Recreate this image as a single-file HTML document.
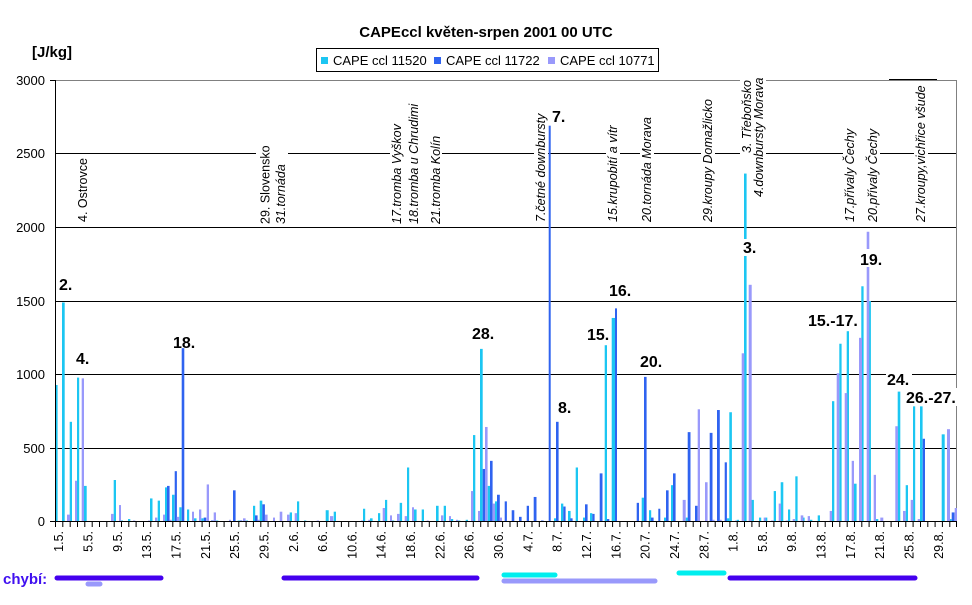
<!DOCTYPE html>
<html><head><meta charset="utf-8"><style>
html,body{margin:0;padding:0;background:#fff;}
svg{display:block;font-family:"Liberation Sans",Arial,sans-serif;}
.c{fill:#1cc6f2}.b{fill:#2f63f0}.l{fill:#9999fb}
.ev{font-size:12.5px;fill:#000}
.n{font-size:16px;font-weight:bold;fill:#000}
.xl{font-size:12.5px;fill:#000}
</style></head><body>
<svg width="972" height="605" viewBox="0 0 972 605" xmlns="http://www.w3.org/2000/svg">
<rect width="972" height="605" fill="#fff"/>
<text x="486" y="37" text-anchor="middle" font-size="15" font-weight="bold">CAPEccl květen-srpen 2001 00 UTC</text>
<text x="32" y="57" font-size="15" font-weight="bold">[J/kg]</text>
<rect x="316.5" y="48.5" width="342" height="23" fill="#fff" stroke="#000"/>
<rect x="321" y="57" width="7" height="7" class="c"/><text x="333" y="65" font-size="13">CAPE ccl 11520</text>
<rect x="434" y="57" width="7" height="7" class="b"/><text x="446" y="65" font-size="13">CAPE ccl 11722</text>
<rect x="548" y="57" width="7" height="7" class="l"/><text x="560" y="65" font-size="13">CAPE ccl 10771</text>
<g stroke="#000" stroke-width="1">
<line x1="55" y1="448.5" x2="957" y2="448.5"/><line x1="55" y1="374.5" x2="957" y2="374.5"/><line x1="55" y1="301.5" x2="957" y2="301.5"/><line x1="55" y1="227.5" x2="957" y2="227.5"/><line x1="55" y1="153.5" x2="957" y2="153.5"/>
<line x1="50" y1="448.5" x2="55" y2="448.5"/><line x1="50" y1="80.5" x2="55" y2="80.5"/><line x1="50" y1="521.5" x2="55" y2="521.5"/>
</g>
<line x1="55" y1="80.5" x2="957" y2="80.5" stroke="#808080"/>
<line x1="889" y1="79.5" x2="937" y2="79.5" stroke="#000"/>
<line x1="956.5" y1="80" x2="956.5" y2="522" stroke="#808080"/>
<g font-size="13" text-anchor="end">
<text x="45" y="526">0</text><text x="45" y="453">500</text><text x="45" y="379">1000</text><text x="45" y="306">1500</text><text x="45" y="232">2000</text><text x="45" y="158">2500</text><text x="45" y="85">3000</text>
</g>
<line x1="55.5" y1="80" x2="55.5" y2="522" stroke="#000"/>
<g transform="translate(0,522) scale(1,-0.14733)">
<g class="c">
<rect x="56" y="0" width="1.6" height="930"/><rect x="62" y="0" width="2.7" height="1490"/><rect x="69.7" y="0" width="2.3" height="680"/><rect x="77" y="0" width="2.2" height="980"/><rect x="84" y="0" width="2.7" height="245"/><rect x="113.7" y="0" width="2.3" height="285"/><rect x="120.7" y="0" width="2.3" height="10"/><rect x="128" y="0" width="2.3" height="20"/><rect x="150" y="0" width="2.5" height="160"/><rect x="157.7" y="0" width="2.3" height="145"/><rect x="165" y="0" width="2.2" height="235"/><rect x="172" y="0" width="2.5" height="185"/><rect x="179.3" y="0" width="2.3" height="100"/><rect x="187" y="0" width="2.2" height="85"/><rect x="194" y="0" width="2.5" height="25"/><rect x="201.3" y="0" width="2.3" height="25"/><rect x="216" y="0" width="2.3" height="10"/><rect x="237.7" y="0" width="2.3" height="10"/><rect x="245.7" y="0" width="2.3" height="10"/><rect x="253" y="0" width="2.2" height="110"/><rect x="259.7" y="0" width="2.6" height="145"/><rect x="289.7" y="0" width="2.3" height="65"/><rect x="297" y="0" width="2.2" height="140"/><rect x="304" y="0" width="2.3" height="10"/><rect x="325.7" y="0" width="3" height="80"/><rect x="333.7" y="0" width="2.3" height="70"/><rect x="363" y="0" width="2.2" height="90"/><rect x="370" y="0" width="2.6" height="25"/><rect x="378" y="0" width="2.2" height="60"/><rect x="385" y="0" width="2.2" height="150"/><rect x="392" y="0" width="2.3" height="10"/><rect x="399.7" y="0" width="2.4" height="130"/><rect x="407" y="0" width="2.2" height="370"/><rect x="414" y="0" width="2.6" height="85"/><rect x="421.7" y="0" width="2.3" height="85"/><rect x="428.7" y="0" width="2.2" height="5"/><rect x="436" y="0" width="2.6" height="110"/><rect x="443.7" y="0" width="2.3" height="110"/><rect x="451" y="0" width="2.2" height="20"/><rect x="458" y="0" width="2.3" height="10"/><rect x="465.7" y="0" width="2.3" height="15"/><rect x="473" y="0" width="2.3" height="590"/><rect x="480" y="0" width="2.7" height="1175"/><rect x="487.7" y="0" width="2.3" height="245"/><rect x="495" y="0" width="2.3" height="140"/><rect x="554" y="0" width="2.3" height="25"/><rect x="561" y="0" width="2.3" height="125"/><rect x="568" y="0" width="2.6" height="75"/><rect x="575.7" y="0" width="2.3" height="370"/><rect x="583" y="0" width="2.2" height="30"/><rect x="590" y="0" width="2.3" height="60"/><rect x="604.7" y="0" width="2.3" height="1200"/><rect x="611.7" y="0" width="3.3" height="1385"/><rect x="641.7" y="0" width="2.3" height="165"/><rect x="649" y="0" width="2.2" height="80"/><rect x="664" y="0" width="2.2" height="30"/><rect x="671" y="0" width="2.2" height="250"/><rect x="685.7" y="0" width="2.2" height="30"/><rect x="726.7" y="0" width="2.6" height="25"/><rect x="729.3" y="0" width="2.6" height="745"/><rect x="736.7" y="0" width="2.3" height="15"/><rect x="744" y="0" width="2.6" height="2365"/><rect x="751.3" y="0" width="2.6" height="150"/><rect x="759" y="0" width="2.2" height="30"/><rect x="765" y="0" width="2.3" height="30"/><rect x="773.7" y="0" width="2.3" height="210"/><rect x="780.7" y="0" width="2.6" height="270"/><rect x="788" y="0" width="2.2" height="85"/><rect x="795.3" y="0" width="2.3" height="310"/><rect x="802.3" y="0" width="2.3" height="30"/><rect x="809.7" y="0" width="2.6" height="15"/><rect x="817.7" y="0" width="2.3" height="45"/><rect x="824.3" y="0" width="2.3" height="5"/><rect x="832" y="0" width="2.3" height="820"/><rect x="839.3" y="0" width="2.3" height="1210"/><rect x="846.7" y="0" width="2.3" height="1295"/><rect x="854" y="0" width="2.6" height="260"/><rect x="861.3" y="0" width="2.3" height="1600"/><rect x="868.3" y="0" width="2.6" height="1500"/><rect x="875.7" y="0" width="2.6" height="20"/><rect x="897.7" y="0" width="2.6" height="885"/><rect x="905.7" y="0" width="2.3" height="250"/><rect x="913" y="0" width="2.2" height="785"/><rect x="920" y="0" width="2.6" height="785"/><rect x="925" y="0" width="2.3" height="5"/><rect x="941.7" y="0" width="3" height="595"/><rect x="949.3" y="0" width="2.3" height="20"/>
</g>
<g class="b">
<rect x="167" y="0" width="2.6" height="245"/><rect x="174.7" y="0" width="2.2" height="345"/><rect x="181.7" y="0" width="2.6" height="1180"/><rect x="203.7" y="0" width="2.6" height="30"/><rect x="211" y="0" width="2.6" height="10"/><rect x="233" y="0" width="2.6" height="215"/><rect x="240" y="0" width="2.3" height="10"/><rect x="255" y="0" width="2.6" height="45"/><rect x="262.3" y="0" width="2.6" height="120"/><rect x="482.7" y="0" width="2.3" height="360"/><rect x="490" y="0" width="2.6" height="415"/><rect x="497" y="0" width="2.8" height="185"/><rect x="504.7" y="0" width="2.2" height="140"/><rect x="511.7" y="0" width="2.6" height="80"/><rect x="519" y="0" width="2.6" height="35"/><rect x="526.7" y="0" width="2.3" height="110"/><rect x="533.7" y="0" width="2.8" height="170"/><rect x="541" y="0" width="2.6" height="10"/><rect x="548.7" y="0" width="2" height="2690"/><rect x="556" y="0" width="2.6" height="680"/><rect x="563.3" y="0" width="2.3" height="105"/><rect x="570.3" y="0" width="2.3" height="25"/><rect x="585" y="0" width="2.6" height="120"/><rect x="592.3" y="0" width="2.3" height="55"/><rect x="599.7" y="0" width="2.8" height="330"/><rect x="607" y="0" width="2.3" height="20"/><rect x="615" y="0" width="2" height="1450"/><rect x="636.7" y="0" width="2.3" height="130"/><rect x="644" y="0" width="2.6" height="985"/><rect x="651" y="0" width="2.6" height="30"/><rect x="658.3" y="0" width="2" height="90"/><rect x="666" y="0" width="2.6" height="215"/><rect x="673" y="0" width="2.6" height="330"/><rect x="687.7" y="0" width="2.8" height="610"/><rect x="695" y="0" width="2.6" height="110"/><rect x="709.7" y="0" width="2.8" height="605"/><rect x="717" y="0" width="2.8" height="760"/><rect x="724.7" y="0" width="2.2" height="405"/><rect x="922.7" y="0" width="2.3" height="565"/><rect x="927" y="0" width="2.2" height="5"/><rect x="951.7" y="0" width="2.8" height="65"/>
</g>
<g class="l">
<rect x="67" y="0" width="3.2" height="50"/><rect x="75" y="0" width="2" height="280"/><rect x="81.7" y="0" width="2.3" height="975"/><rect x="111" y="0" width="2.6" height="55"/><rect x="119" y="0" width="2" height="115"/><rect x="133" y="0" width="2.3" height="10"/><rect x="148" y="0" width="2" height="10"/><rect x="155" y="0" width="2.3" height="30"/><rect x="163" y="0" width="2" height="50"/><rect x="169.7" y="0" width="2" height="15"/><rect x="176.7" y="0" width="2.6" height="35"/><rect x="192" y="0" width="2" height="70"/><rect x="199" y="0" width="2.3" height="85"/><rect x="206.7" y="0" width="2.3" height="255"/><rect x="213.7" y="0" width="2.3" height="65"/><rect x="229" y="0" width="2" height="15"/><rect x="243" y="0" width="2.6" height="25"/><rect x="257.7" y="0" width="2" height="15"/><rect x="265" y="0" width="2.6" height="50"/><rect x="273" y="0" width="2" height="30"/><rect x="279.7" y="0" width="2.6" height="70"/><rect x="287" y="0" width="2.6" height="50"/><rect x="294.7" y="0" width="2.3" height="60"/><rect x="316.7" y="0" width="2.3" height="10"/><rect x="330" y="0" width="3.2" height="40"/><rect x="339" y="0" width="2" height="5"/><rect x="346.3" y="0" width="2.3" height="5"/><rect x="348.7" y="0" width="2.3" height="5"/><rect x="353" y="0" width="2.6" height="5"/><rect x="361" y="0" width="2" height="10"/><rect x="368.3" y="0" width="1.7" height="15"/><rect x="382.7" y="0" width="2.3" height="95"/><rect x="390" y="0" width="2" height="45"/><rect x="397" y="0" width="2.6" height="55"/><rect x="404.7" y="0" width="2.3" height="40"/><rect x="412" y="0" width="2" height="100"/><rect x="419.3" y="0" width="2.3" height="5"/><rect x="426.7" y="0" width="2" height="10"/><rect x="441" y="0" width="2.3" height="45"/><rect x="449" y="0" width="2" height="40"/><rect x="456" y="0" width="2" height="15"/><rect x="471" y="0" width="2.3" height="210"/><rect x="478" y="0" width="2" height="75"/><rect x="485" y="0" width="2.6" height="645"/><rect x="492.7" y="0" width="2.3" height="125"/><rect x="499.7" y="0" width="2.3" height="30"/><rect x="682.7" y="0" width="3" height="150"/><rect x="697.7" y="0" width="2.3" height="765"/><rect x="702.7" y="0" width="2" height="5"/><rect x="705" y="0" width="2.6" height="270"/><rect x="712.3" y="0" width="2.3" height="15"/><rect x="719.7" y="0" width="2" height="15"/><rect x="735" y="0" width="2" height="10"/><rect x="741.7" y="0" width="2.6" height="1145"/><rect x="748.7" y="0" width="3" height="1610"/><rect x="763.7" y="0" width="2" height="30"/><rect x="771" y="0" width="2.6" height="10"/><rect x="778.7" y="0" width="2.3" height="125"/><rect x="785.7" y="0" width="2.3" height="10"/><rect x="792.7" y="0" width="2.3" height="20"/><rect x="800.7" y="0" width="2.6" height="45"/><rect x="807.7" y="0" width="2.3" height="40"/><rect x="829.7" y="0" width="2.3" height="75"/><rect x="836.7" y="0" width="2.6" height="1010"/><rect x="844.7" y="0" width="2.6" height="875"/><rect x="851.7" y="0" width="2.3" height="415"/><rect x="859" y="0" width="3" height="1250"/><rect x="866.7" y="0" width="2.6" height="1970"/><rect x="873.7" y="0" width="2.3" height="320"/><rect x="880.3" y="0" width="3" height="30"/><rect x="895.3" y="0" width="2.6" height="650"/><rect x="903" y="0" width="2.6" height="75"/><rect x="910.7" y="0" width="2.6" height="150"/><rect x="917.7" y="0" width="2.3" height="20"/><rect x="940" y="0" width="2" height="5"/><rect x="947" y="0" width="3" height="630"/><rect x="954.7" y="0" width="2.3" height="95"/>
</g>
</g>
<line x1="55" y1="521.5" x2="957" y2="521.5" stroke="#000"/>
<path stroke="#000" d="M55.5 522v5M62.8 522v5M70.2 522v5M77.5 522v5M84.8 522v5M92.2 522v5M99.5 522v5M106.8 522v5M114.2 522v5M121.5 522v5M128.8 522v5M136.1 522v5M143.5 522v5M150.8 522v5M158.1 522v5M165.5 522v5M172.8 522v5M180.1 522v5M187.5 522v5M194.8 522v5M202.1 522v5M209.4 522v5M216.8 522v5M224.1 522v5M231.4 522v5M238.8 522v5M246.1 522v5M253.4 522v5M260.8 522v5M268.1 522v5M275.4 522v5M282.7 522v5M290.1 522v5M297.4 522v5M304.7 522v5M312.1 522v5M319.4 522v5M326.7 522v5M334.1 522v5M341.4 522v5M348.7 522v5M356 522v5M363.4 522v5M370.7 522v5M378 522v5M385.4 522v5M392.7 522v5M400 522v5M407.4 522v5M414.7 522v5M422 522v5M429.3 522v5M436.7 522v5M444 522v5M451.3 522v5M458.7 522v5M466 522v5M473.3 522v5M480.7 522v5M488 522v5M495.3 522v5M502.6 522v5M510 522v5M517.3 522v5M524.6 522v5M532 522v5M539.3 522v5M546.6 522v5M554 522v5M561.3 522v5M568.6 522v5M575.9 522v5M583.3 522v5M590.6 522v5M597.9 522v5M605.3 522v5M612.6 522v5M619.9 522v5M627.3 522v5M634.6 522v5M641.9 522v5M649.2 522v5M656.6 522v5M663.9 522v5M671.2 522v5M678.6 522v5M685.9 522v5M693.2 522v5M700.6 522v5M707.9 522v5M715.2 522v5M722.5 522v5M729.9 522v5M737.2 522v5M744.5 522v5M751.9 522v5M759.2 522v5M766.5 522v5M773.9 522v5M781.2 522v5M788.5 522v5M795.8 522v5M803.2 522v5M810.5 522v5M817.8 522v5M825.2 522v5M832.5 522v5M839.8 522v5M847.2 522v5M854.5 522v5M861.8 522v5M869.1 522v5M876.5 522v5M883.8 522v5M891.1 522v5M898.5 522v5M905.8 522v5M913.1 522v5M920.5 522v5M927.8 522v5M935.1 522v5M942.4 522v5M949.8 522v5M956.5 522v5"/>
<g class="xl" text-anchor="end">
<text transform="translate(63.2,531) rotate(-90)">1.5.</text>
<text transform="translate(92.5,531) rotate(-90)">5.5.</text>
<text transform="translate(121.8,531) rotate(-90)">9.5.</text>
<text transform="translate(151.1,531) rotate(-90)">13.5.</text>
<text transform="translate(180.5,531) rotate(-90)">17.5.</text>
<text transform="translate(209.8,531) rotate(-90)">21.5.</text>
<text transform="translate(239.1,531) rotate(-90)">25.5.</text>
<text transform="translate(268.4,531) rotate(-90)">29.5.</text>
<text transform="translate(297.8,531) rotate(-90)">2.6.</text>
<text transform="translate(327.1,531) rotate(-90)">6.6.</text>
<text transform="translate(356.4,531) rotate(-90)">10.6.</text>
<text transform="translate(385.7,531) rotate(-90)">14.6.</text>
<text transform="translate(415,531) rotate(-90)">18.6.</text>
<text transform="translate(444.4,531) rotate(-90)">22.6.</text>
<text transform="translate(473.7,531) rotate(-90)">26.6.</text>
<text transform="translate(503,531) rotate(-90)">30.6.</text>
<text transform="translate(532.3,531) rotate(-90)">4.7.</text>
<text transform="translate(561.7,531) rotate(-90)">8.7.</text>
<text transform="translate(591,531) rotate(-90)">12.7.</text>
<text transform="translate(620.3,531) rotate(-90)">16.7.</text>
<text transform="translate(649.6,531) rotate(-90)">20.7.</text>
<text transform="translate(678.9,531) rotate(-90)">24.7.</text>
<text transform="translate(708.3,531) rotate(-90)">28.7.</text>
<text transform="translate(737.6,531) rotate(-90)">1.8.</text>
<text transform="translate(766.9,531) rotate(-90)">5.8.</text>
<text transform="translate(796.2,531) rotate(-90)">9.8.</text>
<text transform="translate(825.6,531) rotate(-90)">13.8.</text>
<text transform="translate(854.9,531) rotate(-90)">17.8.</text>
<text transform="translate(884.2,531) rotate(-90)">21.8.</text>
<text transform="translate(913.5,531) rotate(-90)">25.8.</text>
<text transform="translate(942.9,531) rotate(-90)">29.8.</text>
</g>
<g fill="#fff">
<rect x="256" y="146" width="32" height="80"/>
<rect x="390" y="98" width="52" height="128"/>
<rect x="534" y="108" width="14" height="116"/>
<rect x="606" y="120" width="14" height="104"/>
<rect x="640" y="108" width="14" height="116"/>
<rect x="701" y="92" width="14" height="132"/>
<rect x="740" y="77" width="13" height="78"/>
<rect x="753" y="77" width="13" height="122"/>
<rect x="843" y="125" width="37" height="99"/>
<rect x="914" y="81" width="14" height="143"/>
</g>
<g class="ev">
<text transform="translate(87,222) rotate(-90)">4. Ostrovce</text>
<text transform="translate(269.5,224) rotate(-90)">29. Slovensko</text>
<text transform="translate(285,224) rotate(-90)" font-style="italic">31.tornáda</text>
<text transform="translate(401,224) rotate(-90)" font-style="italic">17.tromba Vyškov</text>
<text transform="translate(418,224) rotate(-90)" font-style="italic">18.tromba u Chrudimi</text>
<text transform="translate(440,224) rotate(-90)" font-style="italic">21.tromba Kolín</text>
<text transform="translate(545,222) rotate(-90)" font-style="italic">7.četné downbursty</text>
<text transform="translate(617,222) rotate(-90)" font-style="italic">15.krupobití a vítr</text>
<text transform="translate(651,222) rotate(-90)" font-style="italic">20.tornáda Morava</text>
<text transform="translate(712,222) rotate(-90)" font-style="italic">29.kroupy Domažlicko</text>
<text transform="translate(751,153) rotate(-90)" font-style="italic">3. Třeboňsko</text>
<text transform="translate(763,197) rotate(-90)" font-style="italic">4.downbursty Morava</text>
<text transform="translate(854,222) rotate(-90)" font-style="italic">17.přívaly Čechy</text>
<text transform="translate(877,222) rotate(-90)" font-style="italic">20.přívaly Čechy</text>
<text transform="translate(925,222) rotate(-90)" font-style="italic">27.kroupy,vichřice všude</text>
</g>
<g fill="#fff">
<rect x="742" y="239" width="16" height="17"/>
<rect x="859" y="249" width="25" height="18"/>
<rect x="550" y="106" width="16" height="18"/>
<rect x="886" y="370" width="26" height="18"/>
<rect x="905" y="388" width="52" height="18"/>
</g>
<g class="n">
<text x="59" y="290">2.</text>
<text x="76" y="364">4.</text>
<text x="173" y="348">18.</text>
<text x="472" y="339">28.</text>
<text x="552" y="122">7.</text>
<text x="558" y="413">8.</text>
<text x="587" y="340">15.</text>
<text x="609" y="296">16.</text>
<text x="640" y="367">20.</text>
<text x="743" y="253">3.</text>
<text x="860" y="265">19.</text>
<text x="808" y="326">15.-17.</text>
<text x="887" y="385">24.</text>
<text x="906" y="403">26.-27.</text>
</g>
<text x="3" y="584" font-size="15" font-weight="bold" fill="#4010f0">chybí:</text>
<g stroke-linecap="round">
<line x1="57" y1="578" x2="161" y2="578" stroke="#4400ee" stroke-width="5"/>
<line x1="284" y1="578" x2="477" y2="578" stroke="#4400ee" stroke-width="5"/>
<line x1="730" y1="578" x2="915" y2="578" stroke="#4400ee" stroke-width="5"/>
<line x1="88" y1="584" x2="100" y2="584" stroke="#9999fb" stroke-width="5"/>
<line x1="504" y1="581" x2="655" y2="581" stroke="#9999fb" stroke-width="5"/>
<line x1="504" y1="575" x2="555" y2="575" stroke="#00eeee" stroke-width="5"/>
<line x1="679" y1="573" x2="724" y2="573" stroke="#00eeee" stroke-width="5"/>
</g>
</svg>
</body></html>
